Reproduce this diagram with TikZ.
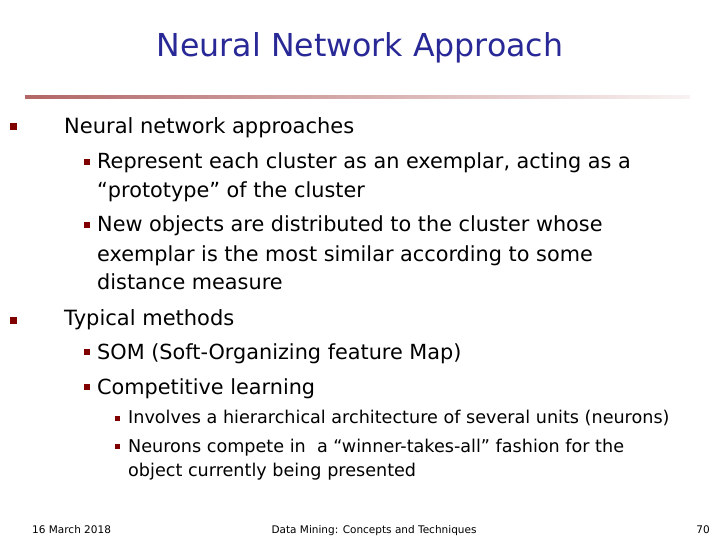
\documentclass[tikz,border=0pt]{standalone}
\usepackage{fontspec}
\setmainfont{DejaVu Sans}
\begin{document}
\begin{tikzpicture}[x=1pt,y=-1pt,
  every node/.style={inner sep=0pt,anchor=base west,text=black},
  lone/.style={font=\fontsize{21}{25}\selectfont},
  ltwo/.style={font=\fontsize{20.8}{25}\selectfont},
  lthree/.style={font=\fontsize{17.6}{21}\selectfont},
  foot/.style={font=\fontsize{10.5}{13}\selectfont},
  bul/.style={fill=bulred,draw=none,minimum size=#1,anchor=center}]
\definecolor{bulred}{RGB}{128,0,0}
\definecolor{titleblue}{RGB}{40,40,150}
\useasboundingbox (0,0) rectangle (720,540);
\node[anchor=center,text=titleblue,font=\fontsize{31.6}{38}\selectfont] (title) at (360,48) {Neural Network Approach};
\shade[left color=bulred!60!white,right color=bulred!5!white] (25,96) rectangle (690,99);
\node[bul=7pt] (b1) at (13,127) {};
\node[lone] (t1) at (64,134) {Neural network approaches};
\node[bul=6pt] (b2) at (87,162) {};
\node[ltwo] (t2) at (97,169) {Represent each cluster as an exemplar, acting as a};
\node[ltwo] (t2b) at (97,197) {“prototype” of the cluster};
\node[bul=6pt] (b3) at (87,225) {};
\node[ltwo] (t3) at (97,232) {New objects are distributed to the cluster whose};
\node[ltwo] (t3b) at (97,261) {exemplar is the most similar according to some};
\node[ltwo] (t3c) at (97,289) {distance measure};
\node[bul=7pt] (b4) at (13,320) {};
\node[lone] (t4) at (64,325) {Typical methods};
\node[bul=6pt] (b5) at (87,352) {};
\node[ltwo] (t5) at (97,359) {SOM (Soft-Organizing feature Map)};
\node[bul=6pt] (b6) at (87,387) {};
\node[ltwo] (t6) at (97,394) {Competitive learning};
\node[bul=5pt] (b7) at (117,418) {};
\node[lthree] (t7) at (128,423) {Involves a hierarchical architecture of several units (neurons)};
\node[bul=5pt] (b8) at (117,446) {};
\node[lthree] (t8) at (128,452) {Neurons compete in\ \ a “winner-takes-all” fashion for the};
\node[lthree] (t8b) at (128,476) {object currently being presented};
\node[foot] (f1) at (32,533) {16 March 2018};
\node[foot,anchor=base] (f2) at (374,533) {Data Mining: Concepts and Techniques};
\node[foot,anchor=base east] (f3) at (710,533) {70};
\end{tikzpicture}
\end{document}
